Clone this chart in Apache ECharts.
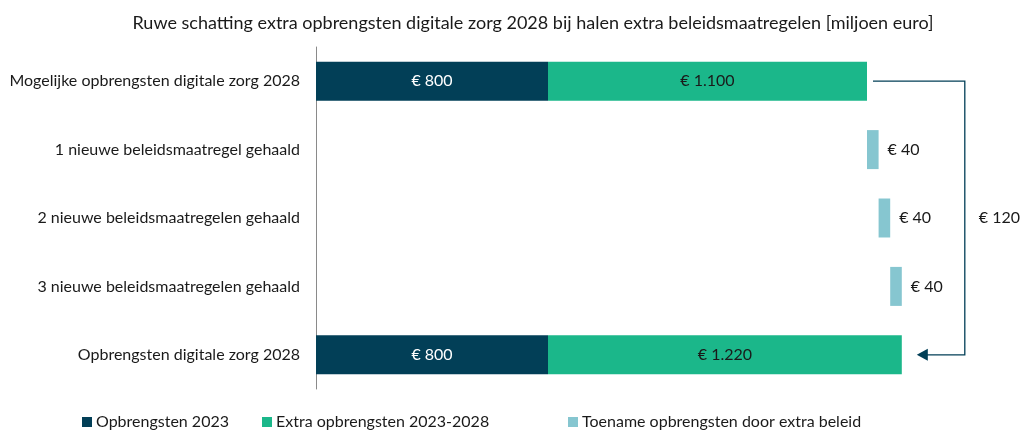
<!DOCTYPE html>
<html>
<head>
<meta charset="utf-8">
<script src="https://cdn.jsdelivr.net/npm/echarts@6/dist/echarts.min.js"></script>
<style>
  html, body { margin: 0; padding: 0; background: #fff; }
  #main { width: 1020px; height: 431px; }
</style>
</head>
<body>
<div id="main"></div>
<script>
// categorieen, van boven naar beneden
var categories = ['Mogelijke opbrengsten digitale zorg 2028', '1 nieuwe beleidsmaatregel gehaald',
	'2 nieuwe beleidsmaatregelen gehaald', '3 nieuwe beleidsmaatregelen gehaald', 'Opbrengsten digitale zorg 2028'];
var opbrengsten2023 = [800, null, null, null, 800];
var extra20232028 = [1100, null, null, null, 1220];
var toename = [null, 40, 40, 40, null];
var totaalToename = 120;

var fontFam = 'Lato, "Open Sans", sans-serif';
var cNavy = '#023f57', cGreen = '#1bb78a', cLight = '#86c6d0';

// onzichtbare basis voor de watervalstapjes
var base = [];
var running = (opbrengsten2023[0] || 0) + (extra20232028[0] || 0);
for (var i = 0; i < categories.length; i++) {
	if (toename[i] != null) {
		base.push(running);
		running += toename[i];
	} else {
		base.push(null);
	}
}

function euro(v) {
	return '€ ' + String(v).replace(/\B(?=(\d{3})+(?!\d))/g, '.');
}

var myChart = echarts.init(document.getElementById('main'));
var option = {
	animation: false,
	title: {
		text: 'Ruwe schatting extra opbrengsten digitale zorg 2028 bij halen extra beleidsmaatregelen [miljoen euro]',
		left: 528, top: 9, textAlign: 'center',
		textStyle: { fontFamily: fontFam, fontSize: 18, fontWeight: 'normal', color: '#1a1a1a' }
	},
	legend: [
		{ data: ['Opbrengsten 2023'], left: 82, top: 414 },
		{ data: ['Extra opbrengsten 2023-2028'], left: 262, top: 414 },
		{ data: ['Toename opbrengsten door extra beleid'], left: 568, top: 414 }
	].map(function (l) {
		l.icon = 'rect';
		l.padding = 0;
		l.itemWidth = 10; l.itemHeight = 10; l.itemGap = 2;
		l.textStyle = { fontFamily: fontFam, fontSize: 16, color: '#1a1a1a', padding: [0, 0, 0, -1] };
		return l;
	}),
	grid: { left: 316, width: 696, top: 47, height: 342 },
	xAxis: {
		type: 'value', min: 0, max: 2400,
		show: false, splitLine: { show: false }
	},
	yAxis: {
		type: 'category', inverse: true, data: categories,
		axisLine: { show: true, lineStyle: { color: '#8a8a8a', width: 1 } },
		axisTick: { show: false },
		axisLabel: { fontFamily: fontFam, fontSize: 16, color: '#1a1a1a', margin: 16 }
	},
	series: [
		{
			name: 'Opbrengsten 2023', type: 'bar', stack: 'a', barWidth: 39, barGap: '-100%',
			data: opbrengsten2023, itemStyle: { color: cNavy },
			label: { show: true, position: 'inside', color: '#fff', fontFamily: fontFam, fontSize: 16,
				formatter: function (p) { return euro(p.value); } }
		},
		{
			name: 'Extra opbrengsten 2023-2028', type: 'bar', stack: 'a', barWidth: 39, barGap: '-100%',
			data: extra20232028, itemStyle: { color: cGreen },
			label: { show: true, position: 'inside', color: '#1a1a1a', fontFamily: fontFam, fontSize: 16,
				formatter: function (p) { return euro(p.value); } }
		},
		{
			name: 'basis', type: 'bar', stack: 'b', barWidth: 39, barGap: '-100%',
			data: base, itemStyle: { color: 'transparent' }, silent: true
		},
		{
			name: 'Toename opbrengsten door extra beleid', type: 'bar', stack: 'b', barWidth: 39, barGap: '-100%',
			data: toename, itemStyle: { color: cLight },
			label: { show: true, position: 'right', distance: 9, color: '#1a1a1a', fontFamily: fontFam, fontSize: 16,
				formatter: function (p) { return euro(p.value); } }
		}
	]
};
myChart.setOption(option);

// verbindingslijn met pijl van bovenste naar onderste balk
var topEnd = myChart.convertToPixel({ xAxisIndex: 0, yAxisIndex: 0 }, [opbrengsten2023[0] + extra20232028[0], 0]);
var botEnd = myChart.convertToPixel({ xAxisIndex: 0, yAxisIndex: 0 }, [opbrengsten2023[4] + extra20232028[4], 4]);
var cornerX = botEnd[0] + 63;
var midY = myChart.convertToPixel({ yAxisIndex: 0 }, 2);
myChart.setOption({
	graphic: [
		{
			type: 'polyline',
			shape: { points: [[topEnd[0] + 6, topEnd[1]], [cornerX, topEnd[1]], [cornerX, botEnd[1]], [botEnd[0] + 24, botEnd[1]]] },
			style: { stroke: cNavy, lineWidth: 1.3, fill: null }
		},
		{
			type: 'polygon',
			shape: { points: [[botEnd[0] + 15, botEnd[1]], [botEnd[0] + 26, botEnd[1] - 6], [botEnd[0] + 26, botEnd[1] + 6]] },
			style: { fill: cNavy }
		},
		{
			type: 'text', x: cornerX + 14, y: midY,
			style: { text: euro(totaalToename), fontFamily: fontFam, fontSize: 16, fill: '#1a1a1a', verticalAlign: 'middle' }
		}
	]
});
</script>
</body>
</html>
